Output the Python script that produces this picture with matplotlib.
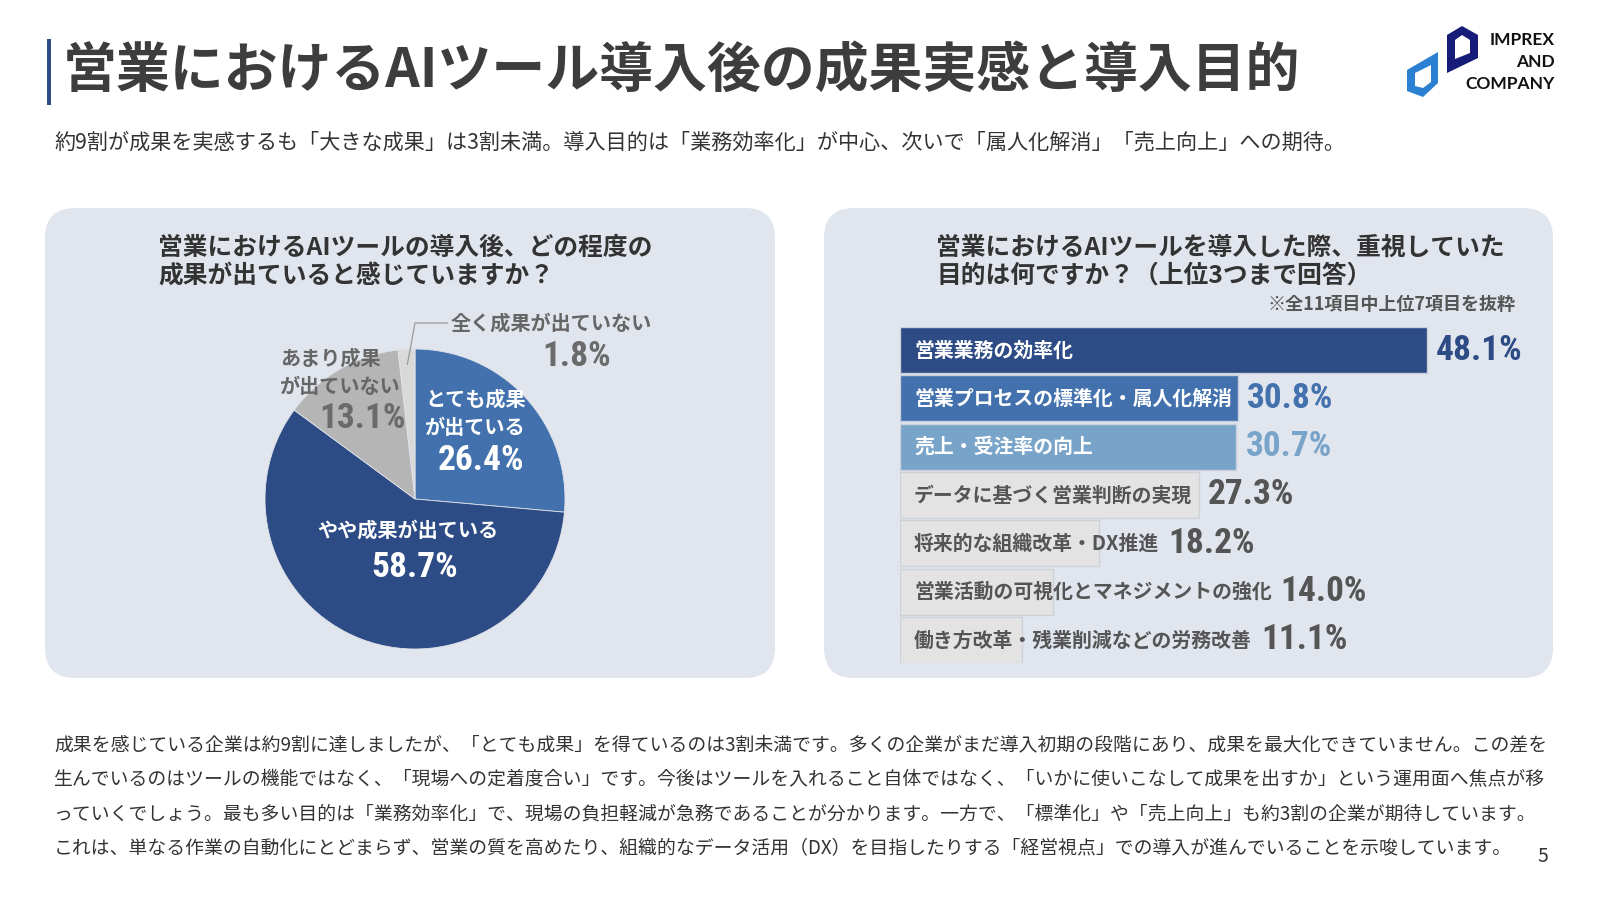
import numpy as np
import matplotlib
matplotlib.use('Agg')
import matplotlib.pyplot as plt
from matplotlib.patches import FancyBboxPatch, Rectangle, Polygon
import matplotlib.transforms as mtransforms

plt.rcParams['font.family'] = ['Noto Sans CJK JP', 'DejaVu Sans']
NUM_FONT = ['Roboto Condensed', 'Liberation Sans Narrow', 'Roboto', 'DejaVu Sans']

# ---------------- data ----------------
title = '営業におけるAIツール導入後の成果実感と導入目的'
subtitle = '約9割が成果を実感するも「大きな成果」は3割未満。導入目的は「業務効率化」が中心、次いで「属人化解消」「売上向上」への期待。'

pie_title = ['営業におけるAIツールの導入後、どの程度の', '成果が出ていると感じていますか？']
pie_labels = ['とても成果\nが出ている', 'やや成果が出ている', 'あまり成果\nが出ていない', '全く成果が出ていない']
pie_values = [26.4, 58.7, 13.1, 1.8]
pie_colors = ['#4271ad', '#2d4b85', '#b5b5b5', '#d9d9d9']

bar_title = ['営業におけるAIツールを導入した際、重視していた', '目的は何ですか？（上位3つまで回答）']
bar_note = '※全11項目中上位7項目を抜粋'
bar_labels = ['営業業務の効率化', '営業プロセスの標準化・属人化解消', '売上・受注率の向上',
              'データに基づく営業判断の実現', '将来的な組織改革・DX推進',
              '営業活動の可視化とマネジメントの強化', '働き方改革・残業削減などの労務改善']
bar_values = [48.1, 30.8, 30.7, 27.3, 18.2, 14.0, 11.1]
bar_colors = ['#2d4b85', '#4271ad', '#79a4c9', '#e3e3e3', '#e3e3e3', '#e3e3e3', '#e3e3e3']
bar_text_colors = ['white', 'white', 'white', '#555555', '#555555', '#555555', '#555555']
value_colors = ['#2d4b85', '#4271ad', '#79a4c9', '#555555', '#555555', '#555555', '#555555']

body_lines = [
    '成果を感じている企業は約9割に達しましたが、「とても成果」を得ているのは3割未満です。多くの企業がまだ導入初期の段階にあり、成果を最大化できていません。この差を',
    '生んでいるのはツールの機能ではなく、「現場への定着度合い」です。今後はツールを入れること自体ではなく、「いかに使いこなして成果を出すか」という運用面へ焦点が移',
    'っていくでしょう。最も多い目的は「業務効率化」で、現場の負担軽減が急務であることが分かります。一方で、「標準化」や「売上向上」も約3割の企業が期待しています。',
    'これは、単なる作業の自動化にとどまらず、営業の質を高めたり、組織的なデータ活用（DX）を目指したりする「経営視点」での導入が進んでいることを示唆しています。',
]
page_number = '5'
logo_lines = ['IMPREX', 'AND', 'COMPANY']

# ---------------- figure ----------------
W, H = 1600, 900
fig = plt.figure(figsize=(16, 9), dpi=100)
fig.patch.set_facecolor('white')
bg = fig.add_axes([0, 0, 1, 1])
bg.set_xlim(0, W)
bg.set_ylim(H, 0)
bg.axis('off')


def box(l, t, r, b):
    return [l / W, 1 - b / H, (r - l) / W, (b - t) / H]


DARK = '#333333'
PANEL = '#e1e5ee'

# title
bg.add_patch(Rectangle((47, 39), 4, 66, color='#2d4b85', lw=0))
bg.text(63, 71, title, fontsize=38.8, fontweight='bold', color='#3d3d3d', va='center', ha='left')
bg.text(54, 143, subtitle, fontsize=15.2, color=DARK, va='center', ha='left')

# logo
bg.add_patch(Polygon([(1407, 70), (1438, 52), (1438, 83), (1423, 97), (1407, 91)], closed=True, color='#2b80d2', lw=0))
bg.add_patch(Polygon([(1415, 73), (1431, 65), (1431, 82), (1423, 88), (1415, 86)], closed=True, color='white', lw=0))
bg.add_patch(Polygon([(1447, 35), (1462, 26), (1478, 35), (1478, 58), (1447, 73)], closed=True, color='#161c78', lw=0))
bg.add_patch(Polygon([(1455, 40), (1462, 35), (1470, 40), (1470, 53), (1455, 59)], closed=True, color='white', lw=0))
for k, s in enumerate(logo_lines):
    bg.text(1555, 40 + 22 * k, s, fontsize=12.5, fontweight='bold', color='#111111',
            family=['Lato', 'DejaVu Sans'], ha='right', va='center')

# panels
for (l, r) in [(45, 775), (824, 1553)]:
    bg.add_patch(FancyBboxPatch((l, 208), r - l, 470, boxstyle='round,pad=0,rounding_size=30',
                                facecolor=PANEL, edgecolor='none'))

# panel titles
for k, s in enumerate(pie_title):
    bg.text(158, 248 + 28 * k, s, fontsize=17.8, fontweight='bold', color=DARK, va='center', ha='left')
for k, s in enumerate(bar_title):
    bg.text(936, 248 + 28 * k, s, fontsize=17.8, fontweight='bold', color=DARK, va='center', ha='left')
bg.text(1516, 304, bar_note, fontsize=13, fontweight='bold', color='#555555', va='center', ha='right')

# ---------------- pie ----------------
pax = fig.add_axes(box(265, 349, 565, 649))
wedges, _ = pax.pie(pie_values, colors=pie_colors, startangle=90, counterclock=False, radius=1,
                    wedgeprops=dict(edgecolor='#dfe3ea', linewidth=0.6))
pax.set_xlim(-1, 1)
pax.set_ylim(-1, 1)
pax.set_aspect('equal')
pax.axis('off')

lab_kw = dict(fontsize=14.5, fontweight='bold', linespacing=1.45)
num_kw = dict(fontsize=25.5, fontweight='bold', family=NUM_FONT)
# とても成果
pax.text(0.067, 0.57, pie_labels[0], color='white', ha='left', va='center', **lab_kw)
pax.text(0.44, 0.26, f'{pie_values[0]:.1f}%', color='white', ha='center', va='center', **num_kw)
# やや成果
pax.text(-0.047, -0.207, pie_labels[1], color='white', ha='center', va='center', **lab_kw)
pax.text(0.0, -0.455, f'{pie_values[1]:.1f}%', color='white', ha='center', va='center', **num_kw)
# あまり成果
pax.text(-0.9, 0.845, pie_labels[2], color='#666666', ha='left', va='center', **lab_kw)
pax.text(-0.353, 0.54, f'{pie_values[2]:.1f}%', color='#6b6b6b', ha='center', va='center', **num_kw)
# 全く成果
pax.text(0.235, 1.173, pie_labels[3], color='#666666', ha='left', va='center', **lab_kw)
pax.text(1.08, 0.947, f'{pie_values[3]:.1f}%', color='#6b6b6b', ha='center', va='center', **num_kw)
# leader line for smallest slice
cum = np.cumsum([0] + pie_values)
mid = 90 - (cum[3] + pie_values[3] / 2) / sum(pie_values) * 360
p0 = (0.9 * np.cos(np.radians(mid)), 0.9 * np.sin(np.radians(mid)))
pax.plot([p0[0], 0.0, 0.215], [p0[1], 1.173, 1.173], color='#9a9a9a', lw=0.9, clip_on=False)

# ---------------- bars ----------------
px_per_pct = 10.96
bax = fig.add_axes(box(900, 327, 900 + 50 * px_per_pct, 663))
n = len(bar_values)
y = np.arange(n)
edge_cols = ['#c8cfdc'] * 3 + ['#cdd1d8'] * 4
bax.barh(y, bar_values, height=0.952, color=bar_colors, edgecolor=edge_cols, linewidth=1.0)
bax.set_xlim(0, 50)
bax.set_ylim(n - 1 + 0.476, -0.476)
bax.axis('off')

inner_tr = mtransforms.offset_copy(bax.transData, fig=fig, x=14, y=0, units='dots')
inner_texts = []
for i, (lab, c) in enumerate(zip(bar_labels, bar_text_colors)):
    t = bax.text(0, i, lab, transform=inner_tr, fontsize=14.3, fontweight='bold', color=c,
                 ha='left', va='center')
    inner_texts.append(t)

fig.canvas.draw()
renderer = fig.canvas.get_renderer()
inv = bax.transData.inverted()
for i, (v, c, t) in enumerate(zip(bar_values, value_colors, inner_texts)):
    bb = t.get_window_extent(renderer)
    bar_end = bax.transData.transform((v, i))[0]
    xd = max(bar_end, bb.x1) + 9
    x_data = inv.transform((xd, 0))[0]
    bax.text(x_data, i, f'{v:.1f}%', fontsize=25.5, fontweight='bold', family=NUM_FONT, color=c,
             ha='left', va='center', clip_on=False)

# ---------------- body text ----------------
for k, s in enumerate(body_lines):
    bg.text(54, 745 + 34.3 * k, s, fontsize=13.55, color=DARK, va='center', ha='left')
bg.text(1543, 856, page_number, fontsize=14, color=DARK, va='center', ha='center')

fig.savefig('out.png', dpi=100, facecolor='white')
